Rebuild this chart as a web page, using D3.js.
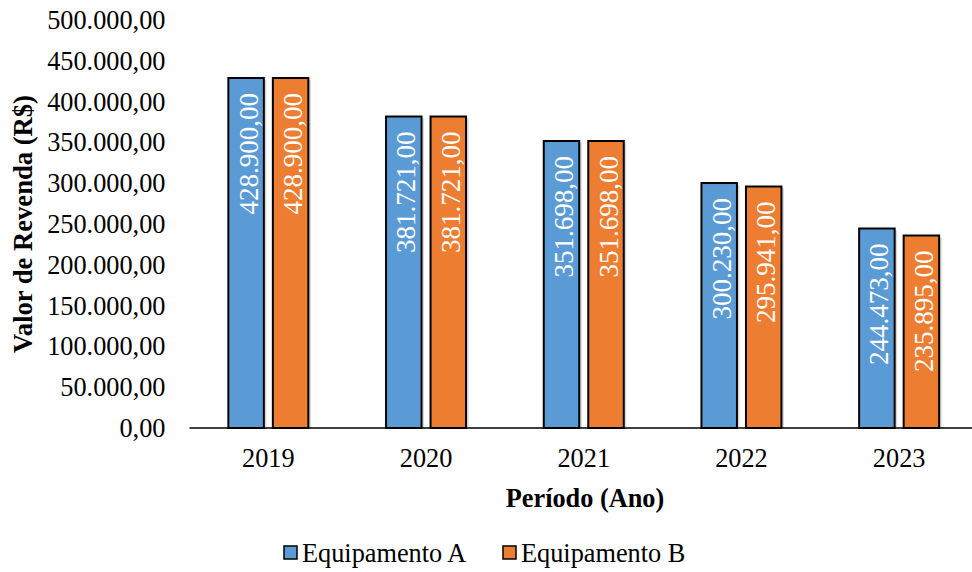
<!DOCTYPE html>
<html>
<head>
<meta charset="utf-8">
<script src="https://cdn.jsdelivr.net/npm/d3@7"></script>
<style>
  html, body { margin: 0; padding: 0; background: #fff; }
  svg { display: block; }
</style>
</head>
<body>
<svg id="chart" width="972" height="572"></svg>
<script>
// Revenda por ano para os dois equipamentos
const years = ["2019", "2020", "2021", "2022", "2023"];
const seriesNames = ["Equipamento A", "Equipamento B"];
const equipA = [428900, 381721, 351698, 300230, 244473];
const equipB = [428900, 381721, 351698, 295941, 235895];
const yTicks = [0, 50000, 100000, 150000, 200000, 250000, 300000, 350000, 400000, 450000, 500000];
const colors = ["#5B9BD5", "#ED7D31"];

const FONT = "'Liberation Serif', 'Times New Roman', serif";
const FS = 26.3;       // texto geral
const FS_LABEL = 27;   // rótulos dentro das barras

const ptBR = d3.formatLocale({ decimal: ",", thousands: ".", grouping: [3], currency: ["R$ ", ""] });
const fmt = ptBR.format(",.2f");

const svg = d3.select("#chart");
const plot = { left: 189.5, right: 978, top: 20, bottom: 428 };

const x = d3.scaleBand().domain(years).range([plot.left, plot.right]).paddingInner(0).paddingOuter(0);
const y = d3.scaleLinear().domain([0, 500000]).range([plot.bottom, plot.top]);

const barW = 35.5, gap = 9;
const series = [equipA, equipB];

// eixo Y (apenas rótulos)
const yAxis = svg.append("g")
  .attr("transform", `translate(${plot.left},0)`)
  .call(d3.axisLeft(y).tickValues(yTicks).tickFormat(fmt).tickSize(0).tickPadding(24));
yAxis.select(".domain").remove();
yAxis.selectAll("text").attr("fill", "#000")
  .style("font-family", FONT).style("font-size", FS + "px");

// barras com sombra leve
const groups = svg.append("g");
series.forEach((vals, si) => {
  const xOff = si === 0 ? -(gap / 2 + barW) : gap / 2;
  const g = groups.append("g");
  g.selectAll("rect.shadow").data(vals).join("rect")
    .attr("class", "shadow")
    .attr("x", (d, i) => x(years[i]) + x.bandwidth() / 2 + xOff + 2.5)
    .attr("y", d => y(d) + 2)
    .attr("width", barW)
    .attr("height", d => y(0) - y(d) - 2)
    .attr("fill", "#d9d9d9");
  g.selectAll("rect.bar").data(vals).join("rect")
    .attr("class", "bar")
    .attr("x", (d, i) => x(years[i]) + x.bandwidth() / 2 + xOff)
    .attr("y", d => y(d))
    .attr("width", barW)
    .attr("height", d => y(0) - y(d))
    .attr("fill", colors[si])
    .attr("stroke", "#000")
    .attr("stroke-width", 2);
  g.selectAll("text").data(vals).join("text")
    .attr("transform", (d, i) => {
      const cx = x(years[i]) + x.bandwidth() / 2 + xOff + barW / 2;
      return `translate(${cx},${y(d) + 15}) rotate(-90)`;
    })
    .attr("text-anchor", "end")
    .attr("y", 11.5)
    .attr("fill", "#fff")
    .style("font-family", FONT).style("font-size", FS_LABEL + "px")
    .text(d => fmt(d));
});

// linha do eixo X
svg.append("line")
  .attr("x1", plot.left).attr("x2", 972)
  .attr("y1", y(0)).attr("y2", y(0))
  .attr("stroke", "#000").attr("stroke-width", 1.5);

// rótulos do eixo X
const xAxis = svg.append("g")
  .attr("transform", `translate(0,${plot.bottom})`)
  .call(d3.axisBottom(x).tickSize(0).tickPadding(20));
xAxis.select(".domain").remove();
xAxis.selectAll("text").attr("fill", "#000")
  .style("font-family", FONT).style("font-size", FS + "px");

// títulos dos eixos
svg.append("text")
  .attr("transform", `translate(32,224) rotate(-90)`)
  .attr("text-anchor", "middle")
  .attr("font-weight", "bold")
  .style("font-family", FONT).style("font-size", "26.6px")
  .text("Valor de Revenda (R$)");
svg.append("text")
  .attr("x", 585).attr("y", 507)
  .attr("text-anchor", "middle")
  .attr("font-weight", "bold")
  .style("font-family", FONT).style("font-size", FS + "px")
  .text("Período (Ano)");

// legenda
const legendX = [284, 503];
const legend = svg.append("g");
seriesNames.forEach((name, i) => {
  legend.append("rect")
    .attr("x", legendX[i]).attr("y", 546)
    .attr("width", 13).attr("height", 13)
    .attr("fill", colors[i]).attr("stroke", "#000").attr("stroke-width", 1.5);
  legend.append("text")
    .attr("x", legendX[i] + 18).attr("y", 562)
    .style("font-family", FONT).style("font-size", FS + "px")
    .text(name);
});
</script>
</body>
</html>
